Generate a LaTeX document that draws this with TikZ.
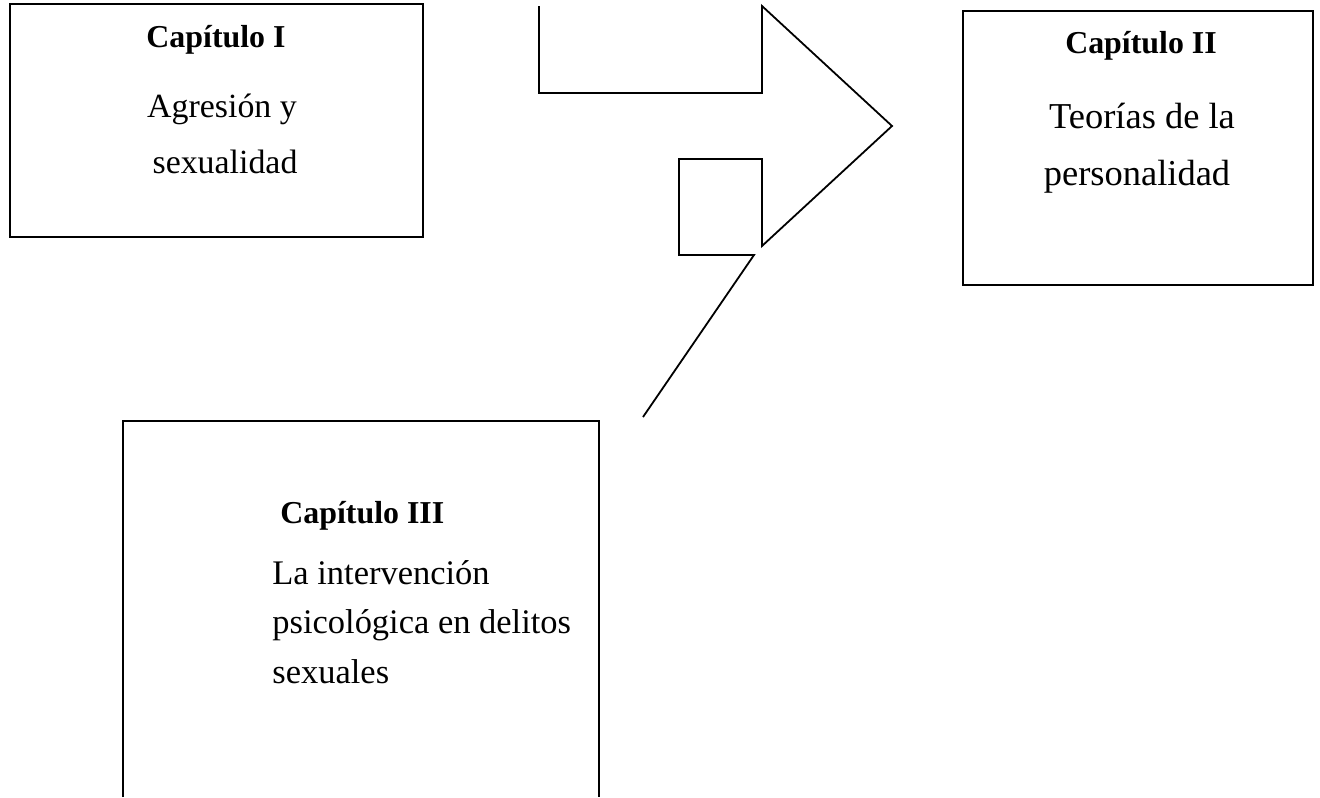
\documentclass[tikz,border=0pt]{standalone}
\usepackage{fontspec}
\setmainfont{Liberation Serif}
\tikzset{
  chapbox/.style={draw=black,line width=1pt},
  bentarrow/.style={draw=black,line width=0.9pt,line join=miter},
  chaptitle/.style={inner sep=0pt,anchor=base,font=\fontsize{16}{19}\selectfont\bfseries},
  chaptext/.style={inner sep=0pt,anchor=base,font=\fontsize{17}{20}\selectfont},
}
\begin{document}
\begin{tikzpicture}[x=0.5bp,y=-0.5bp]
\useasboundingbox (0,0) rectangle (1320,797);
%%
\draw [chapbox] (10,4) rectangle (423,237);
  \draw [chapbox] (963,11) rectangle (1313,285);
  \draw [chapbox] (123,797) -- (123,421) -- (599,421) -- (599,797);
%
\node (cap_1) at (216,47) [chaptitle] {Capítulo I};
  \node (cap_1a) at (222,117) [chaptext] {Agresión y};
  \node (cap_1b) at (225,173) [chaptext] {sexualidad};
  \node (cap_2) at (1141,53) [chaptitle] {Capítulo II};
  \node (cap_2a) at (1142,128) [chaptext,font=\fontsize{18.3}{21}\selectfont] {Teorías de la};
  \node (cap_2b) at (1137,185) [chaptext,font=\fontsize{18.3}{21}\selectfont] {personalidad};
  \node (cap_3) at (280,523) [chaptitle,anchor=base west] {Capítulo III};
  \node (cap_3a) at (272,584) [chaptext,anchor=base west,font=\fontsize{17.3}{20}\selectfont] {La intervención};
  \node (cap_3b) at (272,633) [chaptext,anchor=base west,font=\fontsize{17.3}{20}\selectfont] {psicológica en delitos};
  \node (cap_3c) at (272,683) [chaptext,anchor=base west,font=\fontsize{17.3}{20}\selectfont] {sexuales};
%
\draw [bentarrow] (539,6) -- (539,93) -- (762,93) -- (762,6) -- (892,126)
  -- (762,246) -- (762,159) -- (679,159) -- (679,255) -- (754,255) -- (643,417);
%
\end{tikzpicture}
\end{document}
